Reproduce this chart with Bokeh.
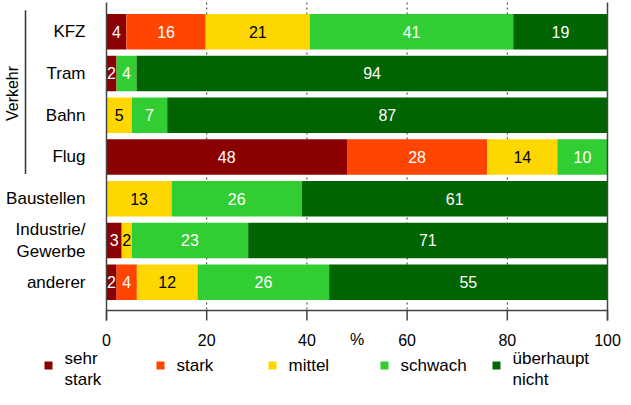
import math
from bokeh.plotting import figure
from bokeh.models import Range1d
from bokeh.core.properties import value
from bokeh.embed import file_html
from bokeh.resources import INLINE

# ---- data ----
categories = ["KFZ", "Tram", "Bahn", "Flug", "Baustellen", "Industrie/\nGewerbe", "anderer"]
sehr_stark = [4, 2, 0, 48, 0, 3, 2]
stark = [16, 0, 0, 28, 0, 0, 4]
mittel = [21, 0, 5, 14, 13, 2, 12]
schwach = [41, 4, 7, 10, 26, 23, 26]
ueberhaupt_nicht = [19, 94, 87, 0, 61, 71, 55]
series_names = ["sehr\nstark", "stark", "mittel", "schwach", "überhaupt\nnicht"]
x_ticks = [0, 20, 40, 60, 80, 100]
grid_ticks = [20, 40, 60, 80]
group_label = "Verkehr"
group_rows = [0, 3]
axis_title = "%"

# ---- style ----
colors = ["#8B0000", "#FF4500", "#FFD700", "#32CD32", "#006400"]
label_colors = ["white", "white", "black", "white", "white"]
FONT = value("Liberation Sans")

W, H = 623, 389
X0, PXX = 106.0, 5.01      # figure px of 0 %, px per %
Y0, PXY = 31.2, 41.75      # figure px of first row centre, px per row


def fx(px):
    return (px - X0) / PXX


def fy(py):
    return (py - Y0) / PXY


p = figure(width=W, height=H,
           x_range=Range1d(fx(0), fx(W)),
           y_range=Range1d(fy(H), fy(0)),
           output_backend="svg", toolbar_location=None,
           x_axis_location=None, y_axis_location=None,
           min_border=0)
p.outline_line_color = None
p.xgrid.visible = False
p.ygrid.visible = False
p.background_fill_color = "white"
p.border_fill_color = "white"

AXIS_Y = 310
FRAME_TOP = 2

# dotted grid
p.segment(x0=grid_ticks, y0=[fy(FRAME_TOP)] * len(grid_ticks), x1=grid_ticks,
          y1=[fy(AXIS_Y)] * len(grid_ticks), line_color="#333333",
          line_dash="2 3", line_width=1)

series = [sehr_stark, stark, mittel, schwach, ueberhaupt_nicht]
rows = list(range(len(categories)))
totals = [sum(s[i] for s in series) for i in rows]

cum = [0.0] * len(rows)
for j, s in enumerate(series):
    left = [cum[i] for i in rows]
    right = [cum[i] + s[i] * 100.0 / totals[i] for i in rows]
    p.hbar(y=rows, left=left, right=right, height=0.85,
           fill_color=colors[j], line_color=None)
    lx, ly, lt = [], [], []
    for i in rows:
        if s[i] > 0:
            lx.append((left[i] + right[i]) / 2)
            ly.append(i)
            lt.append(str(s[i]))
    p.text(x=lx, y=ly, text=lt, text_font=FONT, text_font_size="16px",
           text_color=label_colors[j], text_align="center",
           text_baseline="middle")
    cum = right

# axis frame lines
axc = "#444444"
p.segment(x0=[0, 100], y0=[fy(FRAME_TOP)] * 2, x1=[0, 100], y1=[fy(AXIS_Y + 10)] * 2,
          line_color=axc, line_width=1.5)
p.segment(x0=[0], y0=[fy(AXIS_Y)], x1=[100], y1=[fy(AXIS_Y)],
          line_color=axc, line_width=1.5)
p.segment(x0=x_ticks, y0=[fy(AXIS_Y)] * len(x_ticks), x1=x_ticks,
          y1=[fy(AXIS_Y + 10)] * len(x_ticks), line_color=axc, line_width=1.5)
p.text(x=x_ticks, y=[fy(AXIS_Y + 29)] * len(x_ticks), text=[str(t) for t in x_ticks],
       text_font=FONT, text_font_size="16px", text_color="black",
       text_align="center", text_baseline="middle")
p.text(x=[50], y=[fy(AXIS_Y + 29)], text=[axis_title], text_font=FONT,
       text_font_size="16px", text_color="black", text_align="center",
       text_baseline="middle")

# category labels
p.text(x=[fx(85)] * len(rows), y=rows, text=categories, text_font=FONT,
       text_font_size="17px", text_color="black", text_align="right",
       text_baseline="middle", text_line_height=1.15)

# group bracket
p.segment(x0=[fx(25)], y0=[group_rows[0] - 0.515], x1=[fx(25)], y1=[group_rows[1] + 0.41],
          line_color="#333333", line_width=1.5)
p.text(x=[fx(12)], y=[(group_rows[0] + group_rows[1]) / 2 - 0.02], text=[group_label],
       text_font=FONT, text_font_size="16px", text_color="black",
       text_align="center", text_baseline="middle", angle=math.pi / 2)

# legend
LEG_Y = 365
leg_x = [48 + 112 * k for k in range(len(series_names))]
p.scatter(x=[fx(v) for v in leg_x], y=[fy(LEG_Y)] * len(leg_x), marker="square",
          size=8, fill_color=colors, line_color=None)
leg_ty = [fy(LEG_Y + 3.5) if "\n" in n else fy(LEG_Y) for n in series_names]
p.text(x=[fx(v + 16) for v in leg_x], y=leg_ty, text=series_names,
       text_font=FONT, text_font_size="17px", text_color="black",
       text_align="left", text_baseline="middle", text_line_height=1.12)

open("out.html", "w").write(file_html(p, INLINE))
